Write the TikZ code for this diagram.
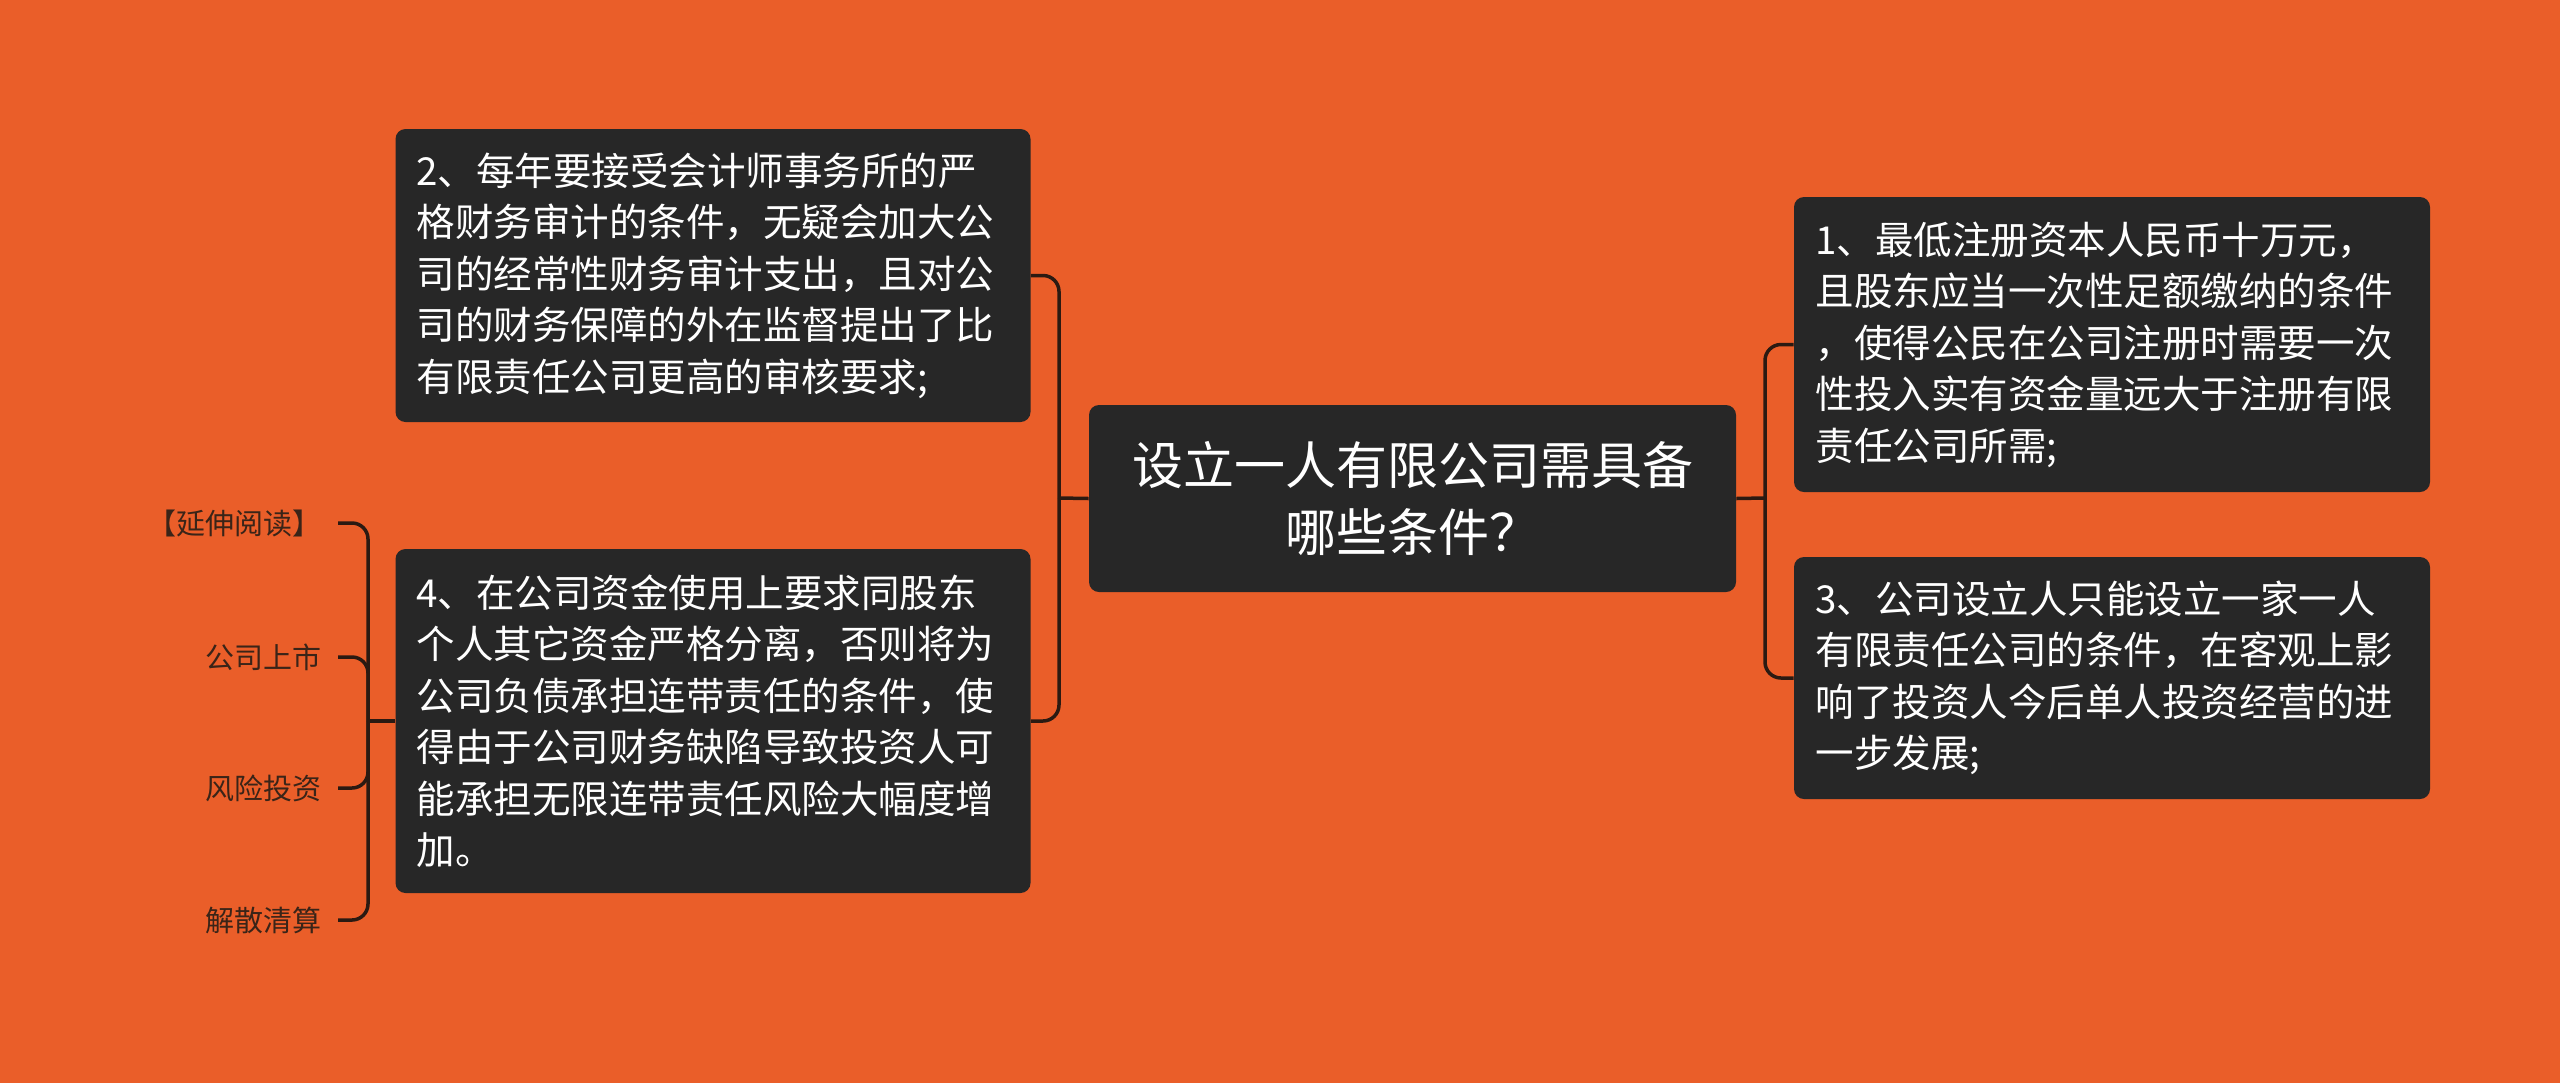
\documentclass[tikz,border=0pt]{standalone}
\usepackage{fontspec}
\setmainfont{Noto Sans CJK SC}
\definecolor{bgc}{HTML}{EA5E29}
\definecolor{boxc}{HTML}{272727}
\definecolor{linec}{HTML}{2B1A12}
\definecolor{labc}{HTML}{3A2418}
\tikzset{
  topic/.style={fill=boxc, rounded corners=5pt, text=white, inner sep=0pt,
    font=\fontsize{19.25pt}{25.75pt}\selectfont, align=left},
  maintopic/.style={fill=boxc, rounded corners=5pt, text=white, inner sep=0pt,
    font=\fontsize{25.5pt}{33.5pt}\selectfont, align=center},
  lab/.style={text=labc, inner ysep=2pt, inner xsep=8pt, anchor=east,
    font=\fontsize{14.5pt}{18pt}\selectfont},
  conn/.style={draw=linec, line width=1.75pt, rounded corners=8pt}
}
\begin{document}
\begin{tikzpicture}[x=0.5pt,y=-0.5pt]
\fill[bgc] (0,0) rectangle (2560,1083);
\useasboundingbox (0,0) rectangle (2560,1083);

\node[maintopic, minimum width=323.5pt, minimum height=93.5pt, text width=300pt] (c) at (1412.5,498.5)
  {设立一人有限公司需具备\\哪些条件？};

\node[topic, minimum width=317.5pt, minimum height=146.5pt, text width=296.5pt] (b2) at (713,275.5)
  {2、每年要接受会计师事务所的严\\格财务审计的条件，无疑会加大公\\司的经常性财务审计支出，且对公\\司的财务保障的外在监督提出了比\\有限责任公司更高的审核要求;};

\node[topic, minimum width=317.5pt, minimum height=172pt, text width=296.5pt] (b4) at (713,721)
  {4、在公司资金使用上要求同股东\\个人其它资金严格分离，否则将为\\公司负债承担连带责任的条件，使\\得由于公司财务缺陷导致投资人可\\能承担无限连带责任风险大幅度增\\加。};

\node[topic, minimum width=318pt, minimum height=147.5pt, text width=296.5pt] (b1) at (2112,344.5)
  {1、最低注册资本人民币十万元，\\且股东应当一次性足额缴纳的条件\\，使得公民在公司注册时需要一次\\性投入实有资金量远大于注册有限\\责任公司所需;};

\node[topic, minimum width=318pt, minimum height=121pt, text width=296.5pt] (b3) at (2112,678)
  {3、公司设立人只能设立一家一人\\有限责任公司的条件，在客观上影\\响了投资人今后单人投资经营的进\\一步发展;};

\node[lab] (l1) at (338,523) {【延伸阅读】};
\node[lab] (l2) at (338,657) {公司上市};
\node[lab] (l3) at (338,788) {风险投资};
\node[lab] (l4) at (338,920) {解散清算};

\coordinate (jl) at (1059,498);
\coordinate (jr) at (1765,498);
\coordinate (jb) at (368,721);

\draw[conn] (c.west) -- (jl);
\draw[conn] (b2.east) -| (jl);
\draw[conn] (b4.east) -| (jl);
\draw[conn] (c.east) -- (jr);
\draw[conn] (b1.west) -| (jr);
\draw[conn] (b3.west) -| (jr);
\draw[conn] (b4.west) -- (jb);
\draw[conn] (l1.east) -| (jb);
\draw[conn] (l2.east) -| (jb);
\draw[conn] (l3.east) -| (jb);
\draw[conn] (l4.east) -| (jb);
\end{tikzpicture}
\end{document}
